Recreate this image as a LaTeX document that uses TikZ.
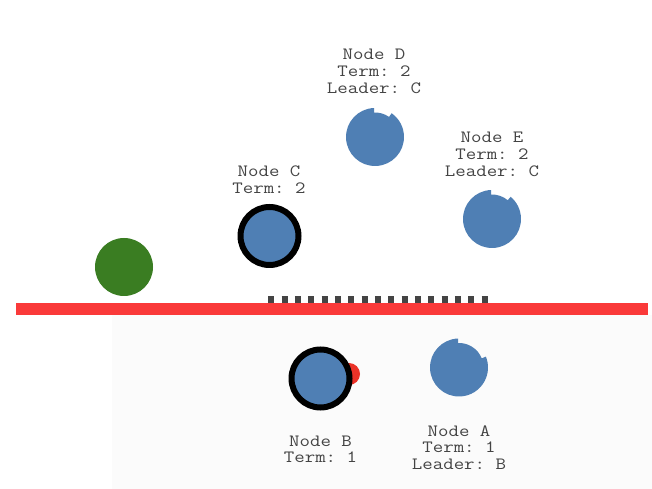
\documentclass[tikz,border=0pt]{standalone}
\usepackage{fontspec}
\setmonofont{Latin Modern Mono}[FakeStretch=1.18]
\definecolor{nodeblue}{HTML}{4F7FB4}
\definecolor{leadgreen}{HTML}{3A7D22}
\definecolor{partred}{HTML}{FA3A3A}
\definecolor{dotred}{HTML}{EB3228}
\definecolor{txtgray}{HTML}{444444}
\definecolor{faint}{HTML}{FBFBFB}
\tikzset{
  lbl/.style={font=\ttfamily\fontsize{17.2}{16.8}\selectfont, text=txtgray, align=center, anchor=south, inner sep=0pt},
  ringed/.style={circle, fill=nodeblue, draw=black, line width=6pt, minimum size=58pt, inner sep=0pt},
  greenc/.style={circle, fill=leadgreen, minimum size=58pt, inner sep=0pt},
  reddot/.style={circle, fill=dotred, minimum size=22pt, inner sep=0pt},
}
\newcommand{\notched}[2]{% center, notch end angle
  \fill[nodeblue] ($(#1)+(92:29pt)$) arc[start angle=92, end angle=#2+360, radius=29pt]
    -- ($(#1)+(#2:24.5pt)$) arc[start angle=#2, end angle=92, radius=24.5pt] -- cycle;}
\usetikzlibrary{calc}
\begin{document}
\begin{tikzpicture}[x=1pt,y=1pt]
\useasboundingbox (0,0) rectangle (652,489);
\fill[white] (0,0) rectangle (652,489);
\fill[faint] (112,0) rectangle (652,174);

% partition line
\coordinate (dashL) at (268.3,189);
\coordinate (dashR) at (488.3,189);
\draw[txtgray, line width=8pt, dash pattern=on 6pt off 7.33pt] (dashL) -- (dashR);
\coordinate (redL) at (16,180);
\coordinate (redR) at (648,180);
\draw[partred, line width=12pt] (redL) -- (redR);

% nodes
\node[greenc] (G) at (124,222) {};
\node[ringed] (C) at (269.5,253) {};
\coordinate (D) at (375,352);
\notched{D}{55}
\coordinate (E) at (492,270);
\notched{E}{50}
\coordinate (A) at (459,121.5);
\notched{A}{22}
\node[reddot] (R) at (349,115) {};
\node[ringed] (B) at (320.5,110.5) {};

% labels
\node[lbl] (Dl) at (374,395) {Node D\\Term: 2\\Leader: C};
\node[lbl] (El) at (492,312.3) {Node E\\Term: 2\\Leader: C};
\node[lbl] (Cl) at (269,295) {Node C\\Term: 2};
\node[lbl] (Bl) at (320.5,25.7) {Node B\\Term: 1};
\node[lbl] (Al) at (459,19) {Node A\\Term: 1\\Leader: B};
\end{tikzpicture}
\end{document}
